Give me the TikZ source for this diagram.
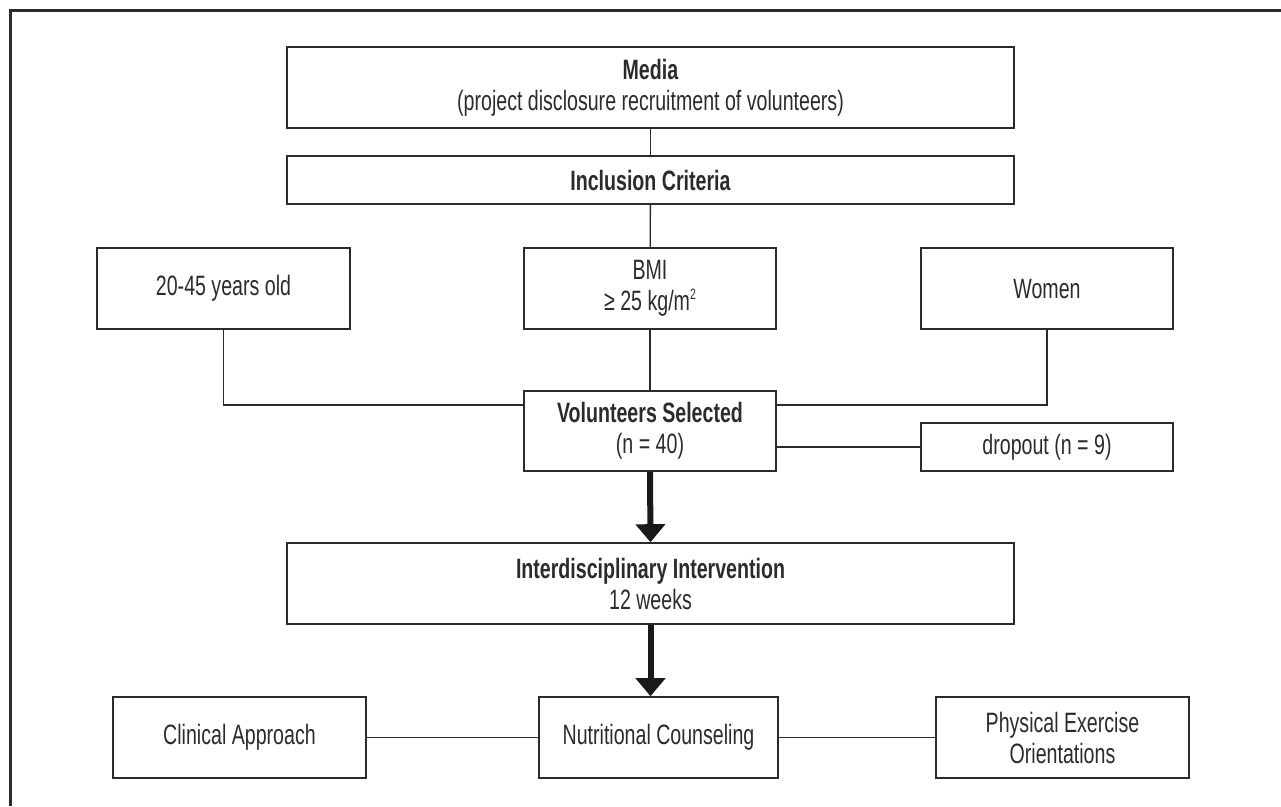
\documentclass[tikz,border=0pt]{standalone}
\usepackage{fontspec}
\setmainfont{Liberation Sans}[FakeStretch=0.70]
\usetikzlibrary{arrows.meta}
\definecolor{inkgray}{HTML}{2B2B2B}

\begin{document}
\begin{tikzpicture}[x=1pt,y=-1pt,
    box/.style={draw=inkgray,line width=1.6pt,text=inkgray,align=center,inner sep=0pt,
        font=\fontsize{28}{31}\selectfont,minimum height=81pt},
    link/.style={draw=inkgray,line width=1.3pt},
    bigarrow/.style={draw=black!90,line width=6pt,-{Triangle[width=29pt,length=18pt]}}]
        \useasboundingbox (0,0) rectangle (1281,806);
        \draw[line width=3pt,color=inkgray] (10.5,806)--(10.5,10.5)--(1281,10.5);
        % top of the flow
        \node[box,minimum width=727pt] (media) at (650.5,87.5){\textbf{Media}\\(project disclosure recruitment of volunteers)};
        \node[box,minimum width=727pt,minimum height=48pt] (incl) at (650.5,180){\textbf{Inclusion Criteria}};
        % criteria
        \node[box,minimum width=253pt] (age) at (223.5,288.5){20-45 years old};
        \node[box,minimum width=252pt] (bmi) at (650,288.5){BMI\\≥ 25 kg/m\raisebox{0.75ex}{\fontsize{15}{15}\selectfont 2}};
        \node[box,minimum width=252pt] (women) at (1047,288.5){Women};
        \node[box,minimum width=252pt,minimum height=80pt] (vol) at (650,431){\textbf{Volunteers Selected}\\(n = 40)};
        \node[box,minimum width=252pt,minimum height=48pt] (drop) at (1047,447){dropout (n = 9)};
        \node[box,minimum width=727pt] (inter) at (650.5,583.5){\textbf{Interdisciplinary Intervention}\\12 weeks};
        % bottom row
        \node[box,minimum width=253pt] (clin) at (239.5,737.5){Clinical Approach};
        \node[box,minimum width=239pt] (nutr) at (658.5,737.5){Nutritional Counseling};
        \node[box,minimum width=253pt] (phys) at (1062.5,737.5){Physical Exercise\\Orientations};
        \coordinate (volL) at (524,405);
        \coordinate (volR) at (776,405);
        \draw[link] (media)--(incl);
        \draw[link] (incl)--(bmi);
        \draw[link] (bmi)--(vol);
        \draw[link] (age.south) |- (volL);
        \draw[link] (women.south) |- (volR);
        \draw[link] (vol.east |- drop) -- (drop.west);
        \draw[bigarrow] (vol.south)--(inter.north);
        \draw[bigarrow] (inter.south)--(inter.south |- nutr.north);
        \draw[link] (clin)--(nutr);
        \draw[link] (nutr)--(phys);
    \end{tikzpicture}
\end{document}
